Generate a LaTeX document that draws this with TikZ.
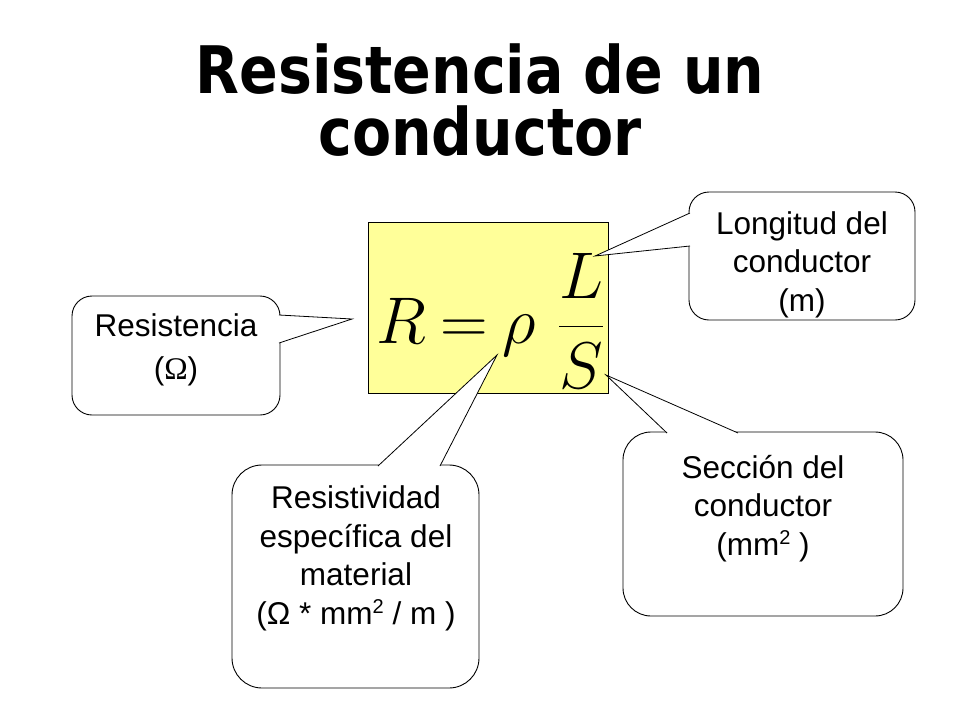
\documentclass[tikz,border=0pt]{standalone}
\usepackage{fix-cm}
\usepackage{fontspec}
\setmainfont{Liberation Sans}
\newfontfamily\titlefont{DejaVu Sans}
\newfontfamily\symbfont{Liberation Serif}
\usetikzlibrary{calc}
\definecolor{eqyellow}{HTML}{FFFF99}
\newcommand\sqsup{\raisebox{11pt}{\fontsize{20}{20}\selectfont 2}}

\begin{document}
\begin{tikzpicture}[x=1pt, y=-1pt,
  every node/.style = {inner sep=0pt, outer sep=0pt},
  bubble/.style = {draw, fill=white, line width=0.9pt, rounded corners=#1},
  bubble/.default = 20pt,
  wedge/.style = {draw, fill=white, line width=0.8pt},
  txt/.style = {font=\fontsize{31.5}{38.5}\selectfont, align=center, anchor=base}]
  \useasboundingbox (0,0) rectangle (960,720);
  % title
  \node[font=\titlefont\bfseries\fontsize{57}{62}\selectfont, align=center, anchor=base] (title) at (480,155)
    {\scalebox{1}[1.15]{Resistencia de un}\\\scalebox{1}[1.15]{conductor}};
  % formula box
  \node[draw, fill=eqyellow, line width=0.9pt, minimum width=240pt, minimum height=171pt] (eq) at (488,307.5) {};
  \node[anchor=base west, font=\fontsize{66}{70}\selectfont] (law) at (376,343)
    {$\displaystyle R\mskip4mu{=}\mskip4mu\rho\mskip6mu\frac{L}{S}$};
  % callout boxes
  \node[bubble, minimum width=208pt, minimum height=119pt] (resbox) at (176,355.5) {};
  \node[bubble, minimum width=226pt, minimum height=128pt] (lenbox) at (802,256) {};
  \node[bubble=28pt, minimum width=280pt, minimum height=184pt] (secbox) at (763,524) {};
  \node[bubble=30pt, minimum width=247pt, minimum height=223pt] (rhobox) at (355.5,576.5) {};
  % pointer tips
  \coordinate (restip) at (352,319);
  \coordinate (lentip) at (595,256);
  \coordinate (sectip) at (606,375);
  \coordinate (rhotip) at (497,355);
  % pointers
  \draw[wedge] ($(resbox.east)+(-1,-40.5)$) -- (restip) -- ($(resbox.east)+(-1,-12.5)$);
  \draw[wedge] ($(lenbox.west)+(1,-43)$) -- (lentip) -- ($(lenbox.west)+(1,-10)$);
  \draw[wedge] ($(secbox.north)+(-96,1)$) -- (sectip) -- ($(secbox.north)+(-25,1)$);
  \draw[wedge] ($(rhobox.north)+(22.5,1)$) -- (rhotip) -- ($(rhobox.north)+(84.5,1)$);
  % texts
  \node[txt] (restext) at (176,379) {Resistencia\\[4pt]({\symbfont Ω})};
  \node[txt] (lentext) at (802,311) {Longitud del\\conductor\\(m)};
  \node[txt] (sectext) at (763,555) {Sección del\\conductor\\(mm\sqsup\ )};
  \node[txt] (rhotext) at (356,624) {Resistividad\\específica del\\material\\(Ω * mm\sqsup\ / m )};
\end{tikzpicture}
\end{document}
